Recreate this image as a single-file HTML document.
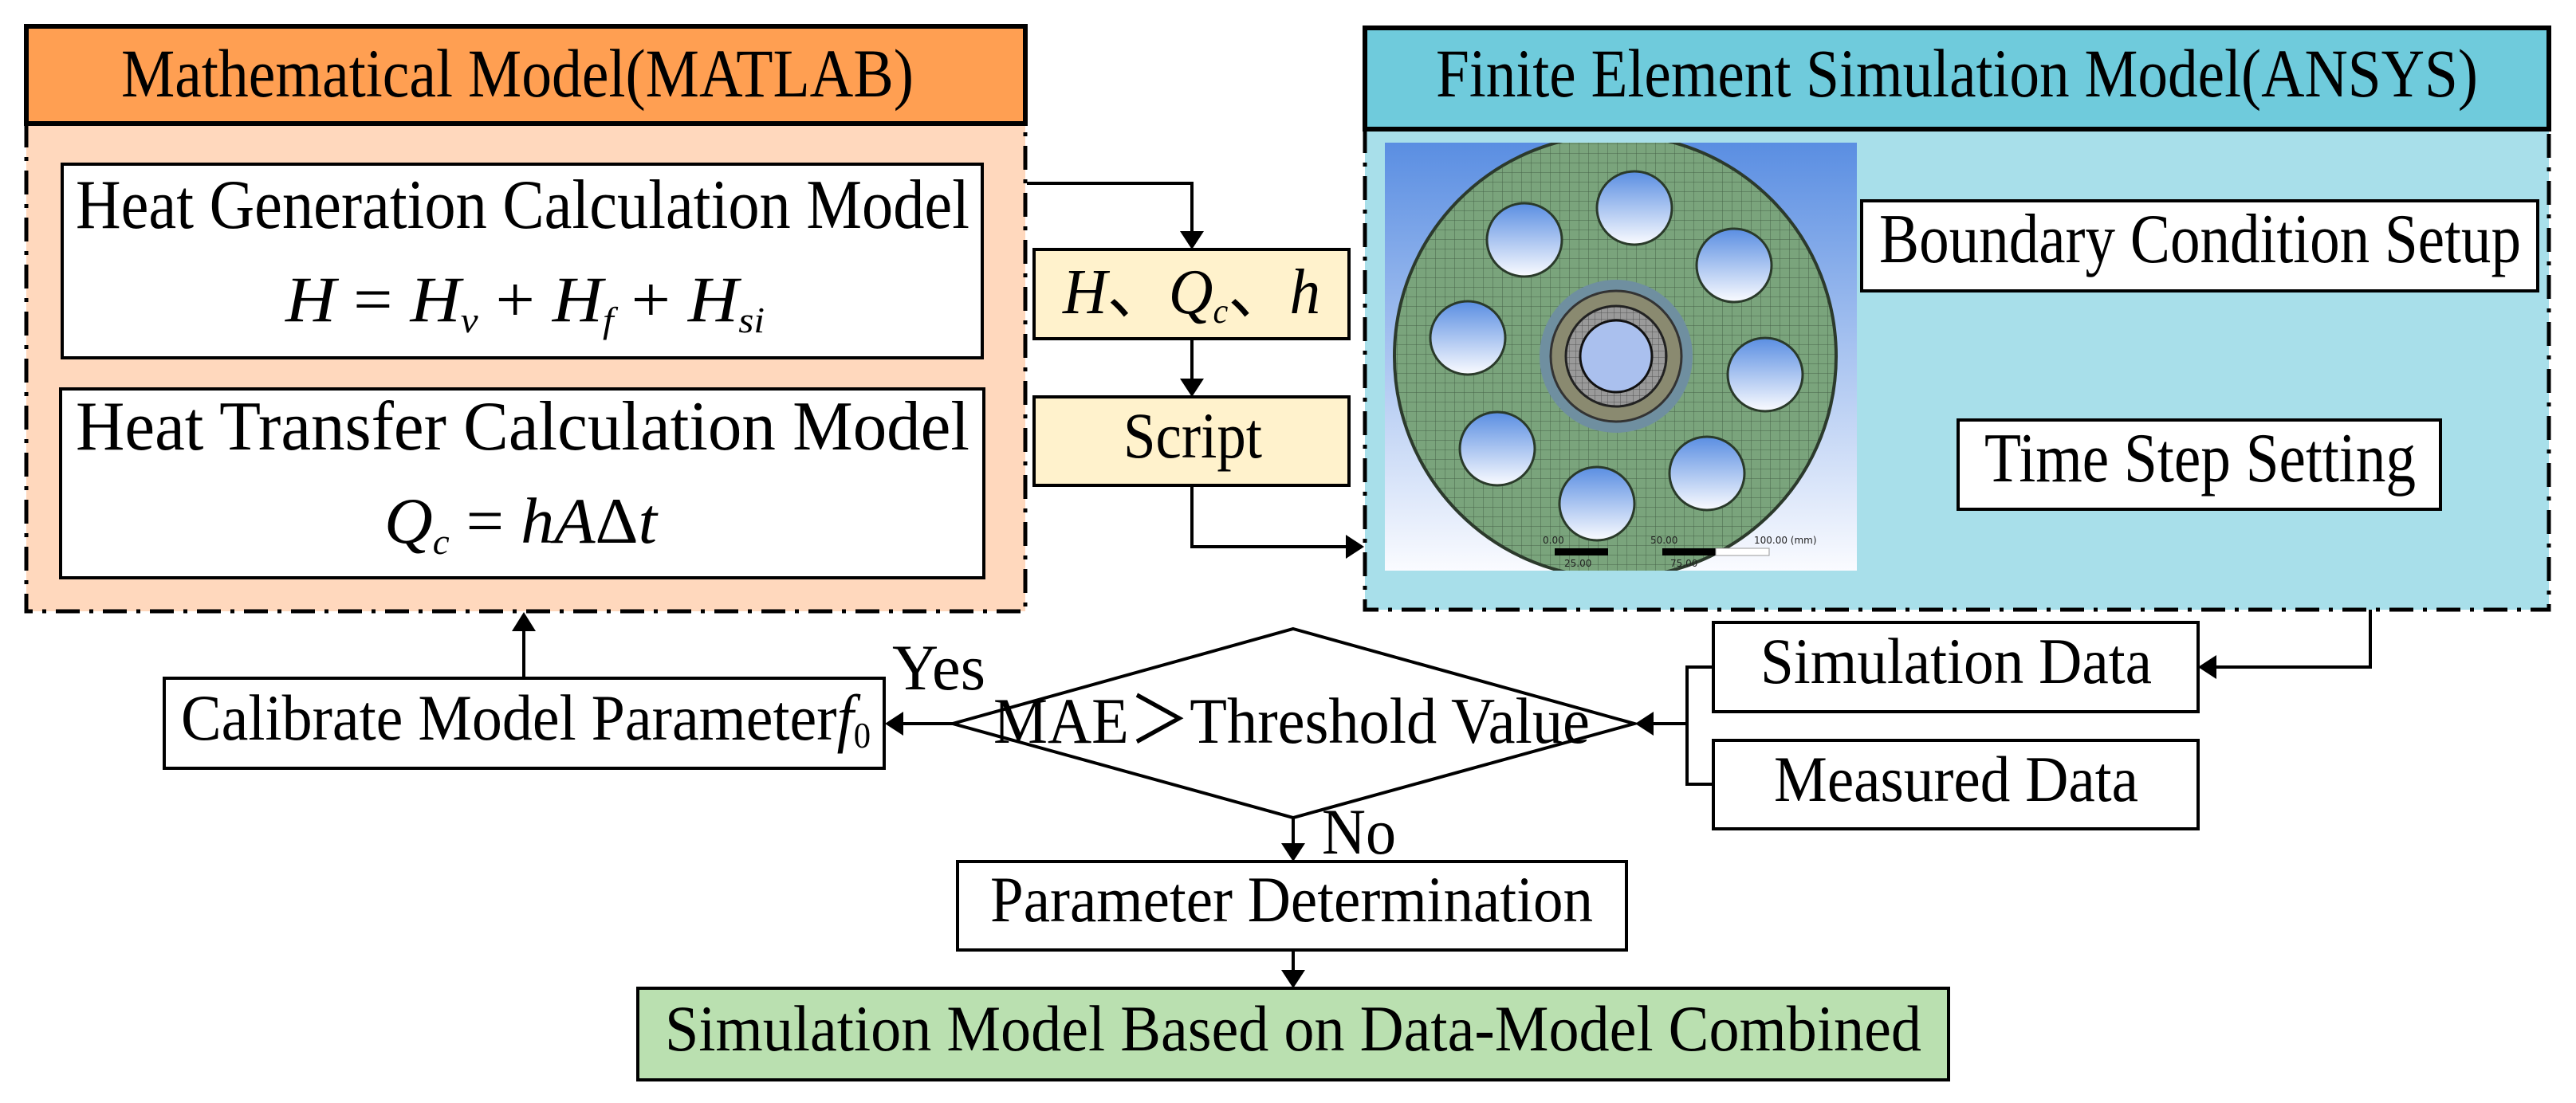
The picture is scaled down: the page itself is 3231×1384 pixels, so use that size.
<!DOCTYPE html>
<html><head><meta charset="utf-8"><style>html,body{margin:0;padding:0;background:#fff}svg{display:block}</style></head><body>
<svg width="3231" height="1384" viewBox="0 0 3231 1384" xmlns="http://www.w3.org/2000/svg" font-family="Liberation Serif, serif">
<defs>
<linearGradient id="bg" x1="0" y1="0" x2="0" y2="1"><stop offset="0" stop-color="#5a8ee2"/><stop offset="1" stop-color="#fafbff"/></linearGradient>
<clipPath id="imgclip"><rect x="1737" y="179" width="592" height="537"/></clipPath>
<pattern id="mesh" width="12" height="12" patternUnits="userSpaceOnUse"><rect width="12" height="12" fill="#7aa47c"/><path d="M0 0H12M0 0V12" stroke="#48634a" stroke-width="1"/></pattern>
<pattern id="mesh2" width="8" height="8" patternUnits="userSpaceOnUse"><rect width="8" height="8" fill="#9a9a9a"/><path d="M0 0H8M0 0V8" stroke="#555" stroke-width="1"/></pattern>
</defs>

<!-- orange group -->
<rect x="33" y="155" width="1253" height="612" fill="#ffd8bd"/>
<path d="M33 155 V767 H1286 V155" fill="none" stroke="#000" stroke-width="5" stroke-dasharray="30 12 5 12"/>
<rect x="33" y="33" width="1253" height="122" fill="#ff9f52" stroke="#000" stroke-width="6"/>
<text x="152" y="121" font-size="86" textLength="994" lengthAdjust="spacingAndGlyphs">Mathematical Model(MATLAB)</text>

<rect x="78" y="206" width="1154" height="243" fill="#fff" stroke="#000" stroke-width="4"/>
<text x="95" y="286" font-size="88" textLength="1121" lengthAdjust="spacingAndGlyphs">Heat Generation Calculation Model</text>
<text x="358" y="403" font-size="82" font-style="italic" textLength="601" lengthAdjust="spacingAndGlyphs">H <tspan font-style="normal">=</tspan> H<tspan font-size="46" dy="14">v</tspan><tspan dy="-14" font-style="normal"> + </tspan>H<tspan font-size="46" dy="14">f</tspan><tspan dy="-14" font-style="normal"> + </tspan>H<tspan font-size="46" dy="14">si</tspan></text>

<rect x="76" y="488" width="1158" height="237" fill="#fff" stroke="#000" stroke-width="4"/>
<text x="95" y="564" font-size="88" textLength="1121" lengthAdjust="spacingAndGlyphs">Heat Transfer Calculation Model</text>
<text x="482" y="681" font-size="82" font-style="italic" textLength="342" lengthAdjust="spacingAndGlyphs">Q<tspan font-size="46" dy="14">c</tspan><tspan dy="-14" font-style="normal"> = </tspan>hA<tspan font-style="normal">Δ</tspan>t</text>

<!-- yellow boxes -->
<rect x="1297" y="313" width="395" height="112" fill="#fff2cc" stroke="#000" stroke-width="4"/>
<text x="1333" y="393" font-size="80" font-style="italic" textLength="323" lengthAdjust="spacingAndGlyphs">H<tspan font-style="normal">、</tspan>Q<tspan font-size="44" dy="12">c</tspan><tspan dy="-12" font-style="normal">、</tspan>h</text>
<rect x="1297" y="498" width="395" height="111" fill="#fff2cc" stroke="#000" stroke-width="4"/>
<text x="1409" y="574" font-size="82" textLength="174" lengthAdjust="spacingAndGlyphs">Script</text>

<!-- connectors top -->
<path d="M1288 230 H1495 V292" fill="none" stroke="#000" stroke-width="4"/>
<polygon points="1480,290 1510,290 1495,313" fill="#000"/>
<path d="M1495 425 V477" fill="none" stroke="#000" stroke-width="4"/>
<polygon points="1480,475 1510,475 1495,498" fill="#000"/>
<path d="M1495 609 V686 H1690" fill="none" stroke="#000" stroke-width="4"/>
<polygon points="1688,671 1688,701 1711,686" fill="#000"/>

<!-- blue group -->
<rect x="1712" y="162" width="1485" height="603" fill="#a8dfea"/>
<path d="M1712 162 V765 H3197 V162" fill="none" stroke="#000" stroke-width="5" stroke-dasharray="30 12 5 12"/>
<rect x="1712" y="35" width="1485" height="127" fill="#6fcbdc" stroke="#000" stroke-width="6"/>
<text x="1801" y="121" font-size="86" textLength="1307" lengthAdjust="spacingAndGlyphs">Finite Element Simulation Model(ANSYS)</text>

<!-- image -->
<g clip-path="url(#imgclip)">
<rect x="1737" y="179" width="592" height="537" fill="url(#bg)"/>
<ellipse cx="2026" cy="447" rx="277" ry="278" fill="url(#mesh)" stroke="#2c3a2c" stroke-width="4"/>
<g fill="url(#bg)" stroke="#2a3a2a" stroke-width="3">
<ellipse cx="2050" cy="261" rx="47" ry="46"/>
<ellipse cx="1912" cy="301" rx="47" ry="46"/>
<ellipse cx="2175" cy="333" rx="47" ry="46"/>
<ellipse cx="1841" cy="424" rx="47" ry="46"/>
<ellipse cx="2214" cy="470" rx="47" ry="46"/>
<ellipse cx="1878" cy="563" rx="47" ry="46"/>
<ellipse cx="2141" cy="594" rx="47" ry="46"/>
<ellipse cx="2003" cy="632" rx="47" ry="46"/>
</g>
<circle cx="2027" cy="447" r="96" fill="#6f8fa0"/>
<circle cx="2027" cy="447" r="82" fill="#8a8a70" stroke="#333" stroke-width="3"/>
<circle cx="2027" cy="447" r="63" fill="url(#mesh2)" stroke="#222" stroke-width="3"/>
<circle cx="2027" cy="447" r="45" fill="#aac0ee" stroke="#111" stroke-width="3"/>
<rect x="1950" y="688" width="67" height="9" fill="#000"/>
<rect x="2085" y="688" width="67" height="9" fill="#000"/>
<rect x="2152" y="688" width="67" height="9" fill="#fff" stroke="#999"/>
<g font-family="DejaVu Sans, sans-serif" font-size="12" fill="#222">
<text x="1935" y="682">0.00</text><text x="2070" y="682">50.00</text><text x="2200" y="682">100.00 (mm)</text>
<text x="1962" y="711">25.00</text><text x="2095" y="711">75.00</text>
</g>
</g>

<rect x="2335" y="252" width="848" height="113" fill="#fff" stroke="#000" stroke-width="4"/>
<text x="2357" y="329" font-size="88" textLength="805" lengthAdjust="spacingAndGlyphs">Boundary Condition Setup</text>
<rect x="2456" y="527" width="605" height="112" fill="#fff" stroke="#000" stroke-width="4"/>
<text x="2489" y="604" font-size="88" textLength="541" lengthAdjust="spacingAndGlyphs">Time Step Setting</text>

<!-- bottom section -->
<path d="M2973 765 V837 H2778" fill="none" stroke="#000" stroke-width="4"/>
<polygon points="2780,822 2780,852 2757,837" fill="#000"/>
<rect x="2149" y="781" width="608" height="112" fill="#fff" stroke="#000" stroke-width="4"/>
<text x="2208" y="857" font-size="82" textLength="491" lengthAdjust="spacingAndGlyphs">Simulation Data</text>
<rect x="2149" y="929" width="608" height="111" fill="#fff" stroke="#000" stroke-width="4"/>
<text x="2225" y="1005" font-size="82" textLength="457" lengthAdjust="spacingAndGlyphs">Measured Data</text>
<path d="M2149 837 H2116 V984 H2149 M2116 908 H2072" fill="none" stroke="#000" stroke-width="4"/>
<polygon points="2074,893 2074,923 2051,908" fill="#000"/>

<polygon points="1622,789 2050,908 1622,1026 1195,908" fill="#fff" stroke="#000" stroke-width="4"/>
<text x="1246" y="932" font-size="82" textLength="748" lengthAdjust="spacingAndGlyphs">MAE＞Threshold Value</text>

<path d="M1195 908 H1131" fill="none" stroke="#000" stroke-width="4"/>
<polygon points="1133,893 1133,923 1110,908" fill="#000"/>
<text x="1119" y="865" font-size="82" textLength="117" lengthAdjust="spacingAndGlyphs">Yes</text>

<rect x="206" y="851" width="903" height="113" fill="#fff" stroke="#000" stroke-width="4"/>
<text x="227" y="928" font-size="82" textLength="865" lengthAdjust="spacingAndGlyphs">Calibrate Model Parameter<tspan font-style="italic">f</tspan><tspan font-size="46" dy="10">0</tspan></text>
<path d="M657 851 V790" fill="none" stroke="#000" stroke-width="4"/>
<polygon points="642,792 672,792 657,768" fill="#000"/>

<path d="M1622 1026 V1060" fill="none" stroke="#000" stroke-width="4"/>
<polygon points="1607,1058 1637,1058 1622,1081" fill="#000"/>
<text x="1658" y="1071" font-size="82" textLength="93" lengthAdjust="spacingAndGlyphs">No</text>

<rect x="1201" y="1081" width="839" height="111" fill="#fff" stroke="#000" stroke-width="4"/>
<text x="1242" y="1156" font-size="82" textLength="756" lengthAdjust="spacingAndGlyphs">Parameter Determination</text>
<path d="M1622 1192 V1219" fill="none" stroke="#000" stroke-width="4"/>
<polygon points="1607,1217 1637,1217 1622,1240" fill="#000"/>

<rect x="800" y="1240" width="1644" height="115" fill="#bae0b0" stroke="#000" stroke-width="4"/>
<text x="834" y="1318" font-size="82" textLength="1576" lengthAdjust="spacingAndGlyphs">Simulation Model  Based on Data-Model Combined</text>
</svg>
</body></html>
